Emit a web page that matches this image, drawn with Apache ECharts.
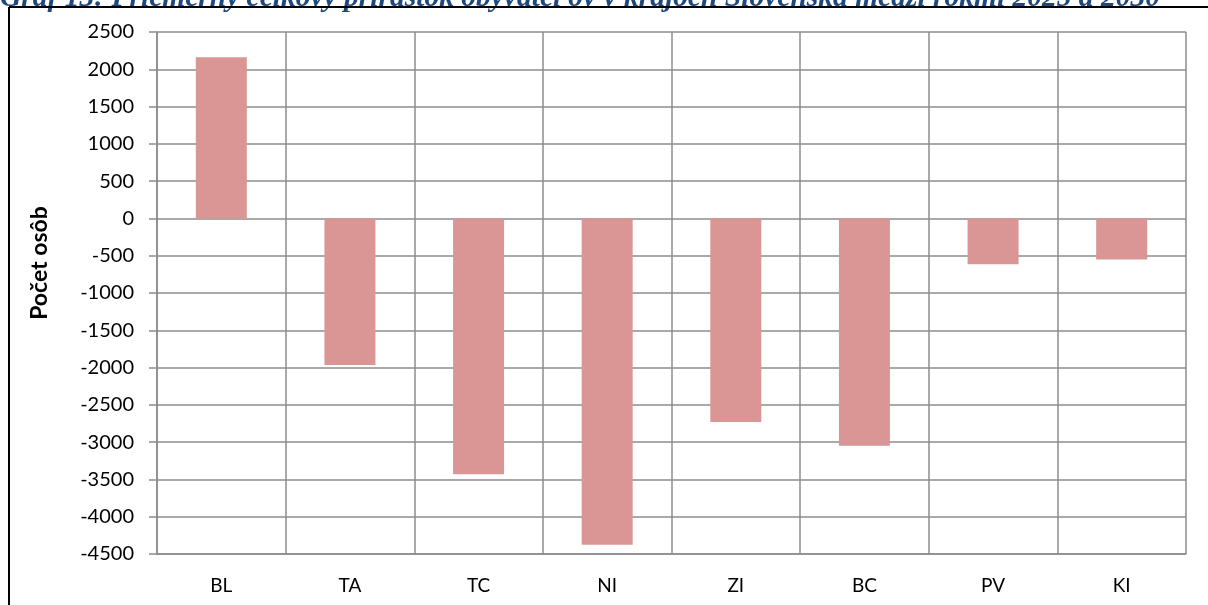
<!DOCTYPE html>
<html>
<head>
<meta charset="utf-8">
<script src="https://cdn.jsdelivr.net/npm/echarts@6/dist/echarts.min.js"></script>
<style>
  html, body { margin: 0; padding: 0; background: #fff; }
  #chart { width: 1208px; height: 605px; }
</style>
</head>
<body>
<div id="chart"></div>
<script>
// kraje a priemerný celkový prírastok obyvateľov
const regions = ['BL', 'TA', 'TC', 'NI', 'ZI', 'BC', 'PV', 'KI'];
const growth = [2160, -1965, -3430, -4375, -2730, -3050, -615, -550];

const titleText = 'Graf 13: Priemerný celkový prírastok obyvateľov v krajoch Slovenska medzi rokmi 2025 a 2030';
const yName = 'Počet osôb';

const gridColor = '#8c8c8c';
const barColor = '#d99694';
const font = 'Lato, "Open Sans", sans-serif';

const chart = echarts.init(document.getElementById('chart'));

chart.setOption({
  animation: false,
  grid: { left: 157, right: 22, top: 32, bottom: 51, containLabel: false },
  xAxis: {
    type: 'category',
    data: regions,
    boundaryGap: true,
    axisLine: { onZero: false, lineStyle: { color: gridColor, width: 1.5 } },
    axisTick: { show: false },
    axisLabel: { color: '#000', fontFamily: font, fontSize: 19, margin: 22 },
    splitLine: { show: true, lineStyle: { color: gridColor, width: 1.5 } }
  },
  yAxis: {
    type: 'value',
    min: -4500,
    max: 2500,
    interval: 500,
    axisLine: { show: true, lineStyle: { color: gridColor, width: 1.5 } },
    axisTick: { show: true, length: 8, lineStyle: { color: gridColor, width: 1.5 } },
    axisLabel: {
      color: '#000',
      fontFamily: font,
      fontSize: 20,
      margin: 23,
      formatter: (v) => String(v)
    },
    splitLine: { lineStyle: { color: gridColor, width: 1.5 } }
  },
  series: [
    {
      type: 'bar',
      data: growth,
      barWidth: 51,
      itemStyle: { color: barColor }
    }
  ],
  graphic: [
    {
      type: 'text',
      left: 0,
      top: -17,
      style: {
        text: titleText,
        fill: '#1f497d',
        font: 'italic bold 29.5px "Liberation Serif", serif'
      }
    },
    {
      type: 'line',
      shape: { x1: 9, y1: 7, x2: 1208, y2: 7 },
      style: { stroke: '#000', lineWidth: 2 }
    },
    {
      type: 'line',
      shape: { x1: 9, y1: 7, x2: 9, y2: 605 },
      style: { stroke: '#000', lineWidth: 2 }
    },
    {
      type: 'text',
      x: 40,
      y: 263,
      rotation: Math.PI / 2,
      style: {
        text: yName,
        fill: '#000',
        font: 'bold 23px ' + font,
        align: 'center',
        verticalAlign: 'middle'
      }
    }
  ]
});
</script>
</body>
</html>
